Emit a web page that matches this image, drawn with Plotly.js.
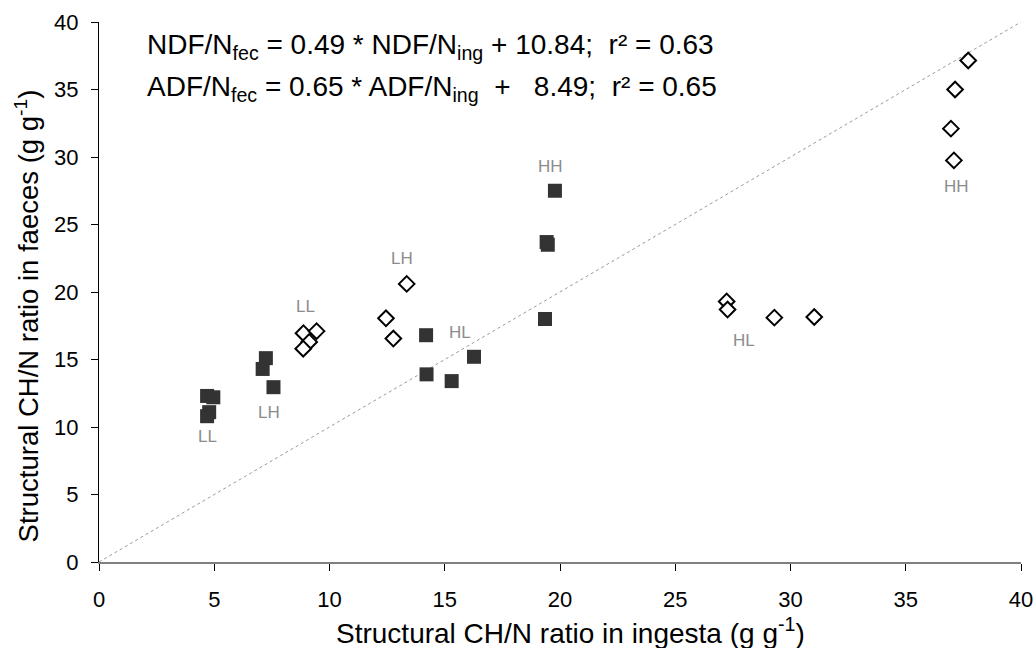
<!DOCTYPE html>
<html>
<head>
<meta charset="utf-8">
<script src="https://cdn.plot.ly/plotly-3.0.1.min.js"></script>
<style>html,body{margin:0;padding:0;background:#fff;}#chart{width:1036px;height:648px;}</style>
</head>
<body>
<div id="chart"></div>
<script>
// ADF/N (filled squares)
const adfX = [4.69, 4.96, 4.78, 4.69, 7.24, 7.10, 7.57, 19.78, 19.42, 19.47, 19.35, 14.19, 16.27, 14.21, 15.30];
const adfY = [12.3, 12.2, 11.1, 10.8, 15.1, 14.3, 12.95, 27.5, 23.7, 23.5, 18.0, 16.8, 15.2, 13.9, 13.4];
// NDF/N (open diamonds)
const ndfX = [8.87, 9.44, 9.12, 8.86, 13.35, 12.45, 12.77, 27.23, 27.27, 29.30, 31.03, 37.71, 37.14, 36.96, 37.09];
const ndfY = [16.95, 17.1, 16.3, 15.8, 20.6, 18.05, 16.55, 19.3, 18.7, 18.1, 18.15, 37.15, 35.0, 32.1, 29.75];
// 1:1 line
const lineX = [0, 40];
const lineY = [0, 40];
// group labels
const labelText = ["LL", "LH", "LL", "LH", "HH", "HL", "HL", "HH"];
const labelX = [4.69, 7.38, 8.94, 13.15, 19.6, 15.66, 28.0, 37.2];
const labelY = [9.3, 11.1, 18.9, 22.5, 29.3, 17.0, 16.4, 27.8];
// ticks
const tickVals = [0, 5, 10, 15, 20, 25, 30, 35, 40];
// titles
const xTitle = "Structural CH/N ratio in ingesta (g g<sup>-1</sup>)";
const yTitle = "Structural CH/N ratio in faeces (g g<sup>-1</sup>)";
// equations
const eqText = [
  "NDF/N<sub>fec</sub> = 0.49 * NDF/N<sub>ing</sub> + 10.84;  r² = 0.63",
  "ADF/N<sub>fec</sub> = 0.65 * ADF/N<sub>ing</sub>  +   8.49;  r² = 0.65"
];
const eqY = [38.15, 35.1];

const font = "Liberation Sans, Arial, sans-serif";

const traces = [
  {x: lineX, y: lineY, mode: "lines", type: "scatter",
   line: {color: "#9a9a9a", width: 1, dash: "dot"}, hoverinfo: "skip"},
  {x: adfX, y: adfY, mode: "markers", type: "scatter",
   marker: {symbol: "square", size: 14, color: "#333333", line: {width: 0}}},
  {x: ndfX, y: ndfY, mode: "markers", type: "scatter",
   marker: {symbol: "diamond", size: 12, color: "#ffffff", line: {color: "#000000", width: 2}}}
];

const annotations = [];
for (let i = 0; i < labelText.length; i++) {
  annotations.push({x: labelX[i], y: labelY[i], xref: "x", yref: "y", text: labelText[i],
    showarrow: false, font: {family: font, size: 17, color: "#8c8c8c"}});
}
for (let i = 0; i < eqText.length; i++) {
  annotations.push({x: 2.0, y: eqY[i], xref: "x", yref: "y", xanchor: "left", text: eqText[i],
    showarrow: false, font: {family: font, size: 28, color: "#000000"}});
}
// axis titles placed as annotations so their position matches
annotations.push({x: 0.511, y: -0.128, xref: "paper", yref: "paper", xanchor: "center", yanchor: "middle",
  text: xTitle, showarrow: false, font: {family: font, size: 28, color: "#000000"}});
annotations.push({x: -0.078, y: 0.455, xref: "paper", yref: "paper", xanchor: "center", yanchor: "middle",
  textangle: -90, text: yTitle, showarrow: false, font: {family: font, size: 27.5, color: "#000000"}});

const layout = {
  width: 1036, height: 648,
  margin: {l: 99, r: 15, t: 22, b: 86, pad: 0},
  paper_bgcolor: "#ffffff", plot_bgcolor: "#ffffff",
  showlegend: false,
  font: {family: font, color: "#000000"},
  xaxis: {
    range: [0, 40], tickvals: tickVals, ticktext: tickVals.map(String),
    showgrid: false, zeroline: false, showline: true, linecolor: "#808080", linewidth: 2,
    ticks: "outside", ticklen: 7, tickcolor: "#000000", tickwidth: 1,
    ticklabelstandoff: 10,
    tickfont: {family: font, size: 22, color: "#000000"},
    fixedrange: true
  },
  yaxis: {
    range: [0, 40], tickvals: tickVals, ticktext: tickVals.map(String),
    showgrid: false, zeroline: false, showline: true, linecolor: "#000000", linewidth: 1,
    ticks: "outside", ticklen: 7, tickcolor: "#000000", tickwidth: 1,
    ticklabelstandoff: 8,
    tickfont: {family: font, size: 22, color: "#000000"},
    fixedrange: true
  },
  annotations: annotations
};

Plotly.newPlot("chart", traces, layout, {displayModeBar: false, staticPlot: true});
</script>
</body>
</html>
